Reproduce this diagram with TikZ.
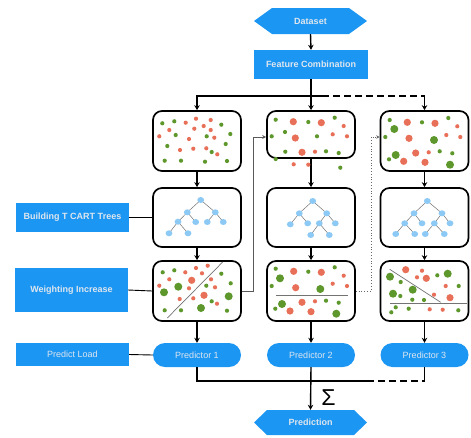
\documentclass[tikz,border=0pt]{standalone}
\usepackage{fontspec}
\setmainfont{Liberation Sans}
\usetikzlibrary{arrows.meta,calc}
\definecolor{boxblue}{RGB}{28,150,243}
\definecolor{txt}{RGB}{222,230,238}
\definecolor{dotred}{RGB}{232,112,88}
\definecolor{dotgreen}{RGB}{94,152,44}
\definecolor{treeblue}{RGB}{140,202,245}
\tikzset{
  panel/.style={draw=black,line width=1.7pt,rounded corners=9pt,fill=white,minimum width=88pt,inner sep=0pt},
  label/.style={fill=boxblue,text=txt,minimum width=113pt,inner sep=0pt,font=\fontsize{9}{10}\selectfont},
  pred/.style={fill=boxblue,text=txt,minimum width=88pt,minimum height=24pt,rounded corners=12pt,inner sep=0pt,font=\fontsize{9}{10}\selectfont},
  conn/.style={line width=1.4pt,draw=black},
  arr/.style={conn,-{Stealth[length=5pt,width=5.5pt]}},
  link/.style={line width=0.9pt,draw=black},
  grayline/.style={line width=0.9pt,draw=black!65,-{Stealth[length=4pt,width=4pt]}},
  dotline/.style={line width=0.8pt,draw=black!60,dotted,-{Stealth[length=3.5pt,width=3.5pt]}},
  tedge/.style={draw=black!55,line width=0.5pt},
  cut/.style={draw=black!55,line width=0.7pt},
}
\begin{document}
\begin{tikzpicture}[x=1pt,y=-1pt]
\useasboundingbox (0,0) rectangle (471,437);
% hexagons
\fill[boxblue] (254,21) -- (272,8) -- (349,8) -- (367,21) -- (349,34) -- (272,34) -- cycle;
\node[font=\bfseries\fontsize{9}{10}\selectfont,text=txt,minimum width=113pt,minimum height=26pt,inner sep=0pt] (dataset) at (310.5,21) {Dataset};
\fill[boxblue] (254,422.5) -- (267,410) -- (354,410) -- (367,422.5) -- (354,435) -- (267,435) -- cycle;
\node[font=\bfseries\fontsize{9}{10}\selectfont,text=txt,minimum width=113pt,minimum height=25pt,inner sep=0pt] (prediction) at (310.5,422.5) {Prediction};
% feature combination
\node[label,minimum width=114pt,minimum height=29pt,font=\bfseries\fontsize{9}{10}\selectfont] (fc) at (311,64.5) {Feature Combination};
% panels
\node[panel,minimum height=60pt] (b11) at (197,141) {};
\node[panel,minimum height=47pt] (b12) at (311,134.5) {};
\node[panel,minimum height=60pt] (b13) at (424.5,141) {};
\node[panel,minimum height=59pt] (t1) at (197,217.5) {};
\node[panel,minimum height=59pt] (t2) at (311,217.5) {};
\node[panel,minimum height=59pt] (t3) at (424.5,217.5) {};
\node[panel,minimum height=60pt] (w1) at (197,291) {};
\node[panel,minimum height=60pt] (w2) at (311,291) {};
\node[panel,minimum height=60pt] (w3) at (424.5,291) {};
% predictors
\node[pred] (p1) at (197,355) {Predictor 1};
\node[pred] (p2) at (311,355) {Predictor 2};
\node[pred] (p3) at (424.5,355) {Predictor 3};
% left labels
\node[label,minimum height=29pt,font=\bfseries\fontsize{9}{10}\selectfont] (bct) at (72.5,217.5) {Building T CART Trees};
\node[label,minimum height=44pt,font=\bfseries\fontsize{9}{10}\selectfont] (wi) at (71.5,290) {Weighting Increase};
\node[label,minimum height=23pt] (pl) at (72.5,354.5) {Predict Load};
% top connectors
\draw[arr] (dataset.south) -- (fc.north);
\coordinate (split) at (311,96);
\coordinate (dashstart) at (322,96);
\coordinate (rcorner) at (424.5,96);
\draw[arr] (fc.south) -- (b12.north);
\draw[arr] (dashstart) -- (split) -| (b11.north);
\draw[conn,dash pattern=on 7pt off 4pt] (dashstart) -- (rcorner);
\draw[arr] (rcorner) -- (b13.north);
% column arrows
\foreach \c in {1,2,3}{
  \draw[arr] (b1\c.south) -- (t\c.north);
  \draw[arr] (t\c.south) -- (w\c.north);
  \draw[arr] (w\c.south) -- (p\c.north);
}
% label links
\draw[link] (bct.east) -- (t1.west);
\draw[link] (wi.east) -- (w1.west);
\draw[link] (pl.east) -- (p1.west);
% feedback links
\coordinate (g1) at (253,291);
\coordinate (g2) at (253,137);
\draw[grayline] (w1.east) -- (g1) -- (g2) -- (b12.west |- g2);
\coordinate (d1) at (371,291);
\coordinate (d2) at (371,137);
\draw[dotline] (w2.east) -- (d1) -- (d2) -- (b13.west |- d2);
% bottom join
\coordinate (j1) at (197,381);
\coordinate (jmid) at (367,381);
\coordinate (j3) at (424.5,381);
\draw[conn] (p1.south) -- (j1) -- (jmid);
\draw[conn,dash pattern=on 7pt off 4pt] (jmid) -- (j3);
\draw[conn] (j3) -- (p3.south);
\draw[arr] (p2.south) -- (prediction.north);
\node[font=\fontsize{23}{23}\selectfont,inner sep=0pt] (sigma) at (328.5,398) {Σ};
% ---- dots row 1 ----
\foreach \x/\y in {162.3/123.3,174.3/121.3,221.3/124.7,230.3/134,175.7/135,167.3/146,206.7/136.3,225.7/144,211.7/152,164.7/160.7,181/160.7,205/161.7,227/161}
  \fill[dotgreen] (\x,\y) circle (2.1pt);
\foreach \x/\y in {185.7/122.7,196/118.7,210.7/120,203.7/126,194.3/128.7,169.3/130,210.7/130,159.3/136.3,189/139,214.3/137.7,180/150,193.3/148.7,206.3/148.3,217.3/154.3}
  \fill[dotred] (\x,\y) circle (2.1pt);
% box 2 row 1
\foreach \x/\y in {275.7/119.7,308.3/122,334.7/117.7,285/132,271.7/136.3,317/136.3,285.3/151.7,326/151.3,338.7/153,275.7/159,340.3/167.7}
  \fill[dotgreen] (\x,\y) circle (2.1pt);
\foreach \x/\y in {293.3/121.7,321.3/122.7,295.3/138,302/152.3}
  \fill[dotred] (\x,\y) circle (3.6pt);
\foreach \x/\y in {343.7/126,332.7/134.3,347/136.3,315/151.7,293.7/164.3,308.3/164.7}
  \fill[dotred] (\x,\y) circle (2.1pt);
% box 3 row 1
\foreach \x/\y in {389.7/120,422/122.3,448.3/118,385.3/137,439.7/151.3,452.3/153.3,389/159.3}
  \fill[dotgreen] (\x,\y) circle (2.1pt);
\foreach \x/\y in {394.3/129,434/140,395.7/155,450/164.7}
  \fill[dotgreen] (\x,\y) circle (4pt);
\foreach \x/\y in {407.3/122.3,435/123.3,409/138.3,415.7/153,403.7/161.3,425/162.3}
  \fill[dotred] (\x,\y) circle (3.6pt);
\foreach \x/\y in {457.3/126.3,446.3/135,460.3/137,428.7/152.3}
  \fill[dotred] (\x,\y) circle (2.1pt);
% ---- trees ----
\foreach \n/\x/\y in {A/200.7/200,B/187.3/212.3,C/215.3/212.3,D/178/221.7,E/195.7/222,F/207.3/222,G/223.3/222,H/169/233.3,I/188/233.3}
  \coordinate (ta\n) at (\x,\y);
\foreach \a/\b in {A/B,A/C,B/D,B/E,C/F,C/G,D/H,D/I}
  \draw[tedge] (ta\a) -- (ta\b);
\foreach \n in {A,B,C,D,E,F,G,H,I}
  \fill[treeblue] (ta\n) ellipse (3.4pt and 3pt);
\foreach \n/\x/\y in {A/312.7/201,B/299.3/213.3,C/326.7/213.3,D/290.3/224.3,E/307.7/223.3,F/319.3/223.3,G/335.3/223.3,H/310.7/235,I/329.3/235}
  \coordinate (tb\n) at (\x,\y);
\foreach \a/\b in {A/B,A/C,B/D,B/E,C/F,C/G,F/H,F/I}
  \draw[tedge] (tb\a) -- (tb\b);
\foreach \n in {A,B,C,D,E,F,G,H,I}
  \fill[treeblue] (tb\n) ellipse (3.4pt and 3pt);
\foreach \n/\x/\y in {A/427.3/201,B/414/213.3,C/442/213.3,D/404.7/223.3,E/422/223.3,F/434.3/223.3,G/450/223.3,H/395.7/234,I/414.7/234,J/425.3/234,K/444.3/234}
  \coordinate (tc\n) at (\x,\y);
\foreach \a/\b in {A/B,A/C,B/D,B/E,C/F,C/G,D/H,D/I,F/J,F/K}
  \draw[tedge] (tc\a) -- (tc\b);
\foreach \n in {A,B,C,D,E,F,G,H,I,J,K}
  \fill[treeblue] (tc\n) ellipse (3.4pt and 3pt);
% ---- row 3 ----
\draw[cut] (167.3,318) -- (222.7,262);
\foreach \x/\y in {162.7/272.3,174.3/270.3,221.3/273.7,230.7/283.3,206.3/285.7,211.7/301.3,164.7/310.3,181/310.3,227/310.7}
  \fill[dotgreen] (\x,\y) circle (2.1pt);
\foreach \x/\y in {164/292.3,178.3/286.7,228.7/296.3,201/308}
  \fill[dotgreen] (\x,\y) circle (4pt);
\foreach \x/\y in {191.7/280.3,204/295.3}
  \fill[dotred] (\x,\y) circle (3.6pt);
\foreach \x/\y in {185.3/272.3,196/268,207.7/265.7,202/273.3,211/279.3,169.3/279.3,159.3/285.7,189/288.3,215/287.3,179.7/299,193.3/298.3,217/303.7}
  \fill[dotred] (\x,\y) circle (2.1pt);
% w2
\draw[cut] (276,295.3) -- (347.7,295.3);
\foreach \x/\y in {275.7/268.7,308.3/271.7,334.7/267.3,271.7/286,326/300.7,338.7/302.7,275.3/308.7}
  \fill[dotgreen] (\x,\y) circle (2.1pt);
\foreach \x/\y in {280/278.3,320.3/289,282/304,336.3/313.7}
  \fill[dotgreen] (\x,\y) circle (4pt);
\foreach \x/\y in {293.7/271.3,321.3/272.3,295.7/287.7,302/302.3,290/311,311/311.7}
  \fill[dotred] (\x,\y) circle (3.6pt);
\foreach \x/\y in {343.7/275.7,332.7/283.7,347/286,315/301.3}
  \fill[dotred] (\x,\y) circle (2.1pt);
% w3
\draw[cut] (389.7,269.3) -- (440.7,302.3);
\draw[cut] (390,303.3) -- (466.7,303.3);
\foreach \x/\y in {400.7/282,437.3/275.3,458.7/286,400.3/296,412.3/299.7,424/300,395.7/307.3,408.7/308.7,391.3/312.3,458.3/310.3}
  \fill[dotgreen] (\x,\y) circle (2.1pt);
\foreach \x/\y in {390/276.7,447.7/273.7,412.7/289.7,393/293.7}
  \fill[dotgreen] (\x,\y) circle (4pt);
\foreach \x/\y in {405.7/269.7,426.3/278.3,450/297.7}
  \fill[dotred] (\x,\y) circle (3.6pt);
\foreach \x/\y in {422/270.7,417/277.3,445.7/286,434/294.7,429.7/309.3,442.7/309.7}
  \fill[dotred] (\x,\y) circle (2.1pt);
\end{tikzpicture}
\end{document}
